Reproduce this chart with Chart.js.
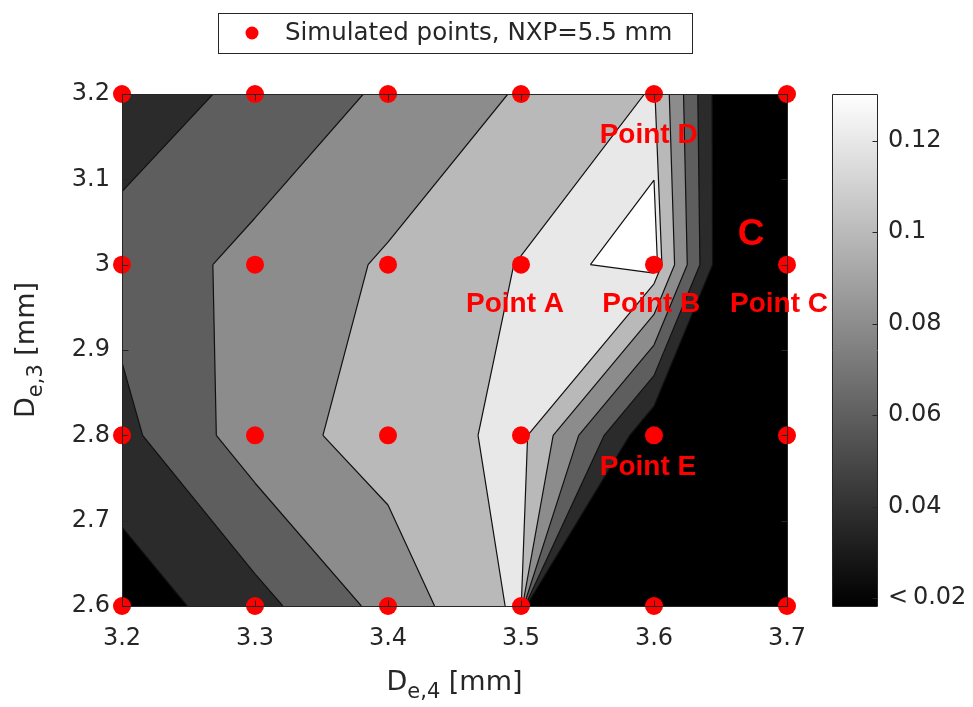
<!DOCTYPE html>
<html>
<head>
<meta charset="utf-8">
<script src="https://cdn.jsdelivr.net/npm/chart.js@4.4.1/dist/chart.umd.min.js"></script>
<style>
  body { margin: 0; background: #fff; }
  #wrap { position: relative; width: 973px; height: 707px; }
  #wrap canvas { position: absolute; left: 0; top: 0; }
</style>
</head>
<body>
<div id="wrap">
  <canvas id="map" width="973" height="707"></canvas>
  <canvas id="bar" width="973" height="707"></canvas>
</div>
<script>
// simulated grid (mm)
const de4Values = [3.2, 3.3, 3.4, 3.5, 3.6, 3.7];
const de3Values = [2.6, 2.8, 3.0, 3.2];

// response at each node, one row per D_e,3 value
const rowDe3_26 = [0.0276, 0.0529, 0.0868, 0.1245, -2.0, -1.5];
const rowDe3_28 = [0.0544, 0.0905, 0.1091, 0.1252, 0.021, -0.08];
const rowDe3_30 = [0.0675, 0.0858, 0.1025, 0.121, 0.1325, -0.0775];
const rowDe3_32 = [0.050, 0.0646, 0.0835, 0.1018, 0.1214, -0.065];

// filled contour levels and the gray of each band (below first level .. above last)
const contourLevels = [0.04, 0.06, 0.08, 0.10, 0.12, 0.127];
const bandGrays = [0, 43, 94, 140, 185, 232, 255];

const xTicks = [3.2, 3.3, 3.4, 3.5, 3.6, 3.7];
const yTicks = [2.6, 2.7, 2.8, 2.9, 3.0, 3.1, 3.2];
const barTicks = [0.02, 0.04, 0.06, 0.08, 0.10, 0.12];
const barRange = [0.0183, 0.1302];

// text marks placed in data units (x, baseline y)
const notes = [
  { text: 'Point D', x: 3.596, y: 3.1426, size: 28 },
  { text: 'Point A', x: 3.4955, y: 2.9445, size: 28 },
  { text: 'Point B', x: 3.598, y: 2.9445, size: 28 },
  { text: 'Point C', x: 3.694, y: 2.9445, size: 28 },
  { text: 'Point E', x: 3.5955, y: 2.7535, size: 28 },
  { text: 'C', x: 3.673, y: 3.023, size: 37 }
];

const AXIS_COLOR = '#262626';
const TICK_FONT = { family: '"DejaVu Sans"', size: 24 };
const grid = [rowDe3_26, rowDe3_28, rowDe3_30, rowDe3_32];
const gray = g => `rgb(${g},${g},${g})`;
const fmt = v => String(Number(v.toFixed(3)));

const gridPoints = [];
de3Values.forEach(y => de4Values.forEach(x => gridPoints.push({ x, y })));

// filled bands + iso-lines, marching squares with linear edge interpolation
const contourPlugin = {
  id: 'contourFill',
  beforeDatasetsDraw(chart) {
    const { ctx, chartArea: a, scales: { x, y } } = chart;
    const px = (i, j, ni, nj, t) => [
      x.getPixelForValue(de4Values[i] + t * (de4Values[ni] - de4Values[i])),
      y.getPixelForValue(de3Values[j] + t * (de3Values[nj] - de3Values[j]))
    ];
    ctx.save();
    ctx.beginPath();
    ctx.rect(a.left, a.top, a.width, a.height);
    ctx.clip();
    ctx.fillStyle = gray(bandGrays[0]);
    ctx.fillRect(a.left, a.top, a.width, a.height);

    const cells = [];
    for (let j = 0; j < de3Values.length - 1; j++) {
      for (let i = 0; i < de4Values.length - 1; i++) {
        cells.push([[i, j], [i + 1, j], [i + 1, j + 1], [i, j + 1]]);
      }
    }

    contourLevels.forEach((lev, k) => {
      ctx.beginPath();
      cells.forEach(corners => {
        const pts = [];
        for (let c = 0; c < 4; c++) {
          const [ci, cj] = corners[c];
          const [ni, nj] = corners[(c + 1) % 4];
          const v0 = grid[cj][ci], v1 = grid[nj][ni];
          if (v0 >= lev) pts.push(px(ci, cj, ci, cj, 0));
          if ((v0 >= lev) !== (v1 >= lev)) pts.push(px(ci, cj, ni, nj, (lev - v0) / (v1 - v0)));
        }
        if (pts.length < 3) return;
        ctx.moveTo(pts[0][0], pts[0][1]);
        pts.slice(1).forEach(p => ctx.lineTo(p[0], p[1]));
        ctx.closePath();
      });
      ctx.fillStyle = gray(bandGrays[k + 1]);
      ctx.fill();
    });

    ctx.strokeStyle = '#111';
    ctx.lineWidth = 1.2;
    ctx.lineJoin = 'round';
    contourLevels.forEach(lev => {
      ctx.beginPath();
      cells.forEach(corners => {
        const hits = [];
        for (let c = 0; c < 4; c++) {
          const [ci, cj] = corners[c];
          const [ni, nj] = corners[(c + 1) % 4];
          const v0 = grid[cj][ci], v1 = grid[nj][ni];
          if ((v0 >= lev) !== (v1 >= lev)) hits.push(px(ci, cj, ni, nj, (lev - v0) / (v1 - v0)));
        }
        let pairs = [];
        if (hits.length === 2) pairs = [[0, 1]];
        else if (hits.length === 4) {
          const [i0, j0] = corners[0];
          pairs = grid[j0][i0] >= lev ? [[0, 1], [2, 3]] : [[1, 2], [3, 0]];
        }
        pairs.forEach(([p, q]) => {
          ctx.moveTo(hits[p][0], hits[p][1]);
          ctx.lineTo(hits[q][0], hits[q][1]);
        });
      });
      ctx.stroke();
    });
    ctx.restore();
  }
};

// axes box with inward ticks on all four sides, drawn over the markers
const framePlugin = {
  id: 'frame',
  afterDatasetsDraw(chart) {
    const { ctx, chartArea: a, scales: { x, y } } = chart;
    const L = Math.round(a.left) + 0.5, R = Math.round(a.right) + 0.5;
    const T = Math.round(a.top) + 0.5, B = Math.round(a.bottom) + 0.5;
    ctx.save();
    ctx.strokeStyle = AXIS_COLOR;
    ctx.lineWidth = 1;
    ctx.beginPath();
    ctx.rect(L, T, R - L, B - T);
    xTicks.forEach(v => {
      const p = Math.round(x.getPixelForValue(v)) + 0.5;
      ctx.moveTo(p, B); ctx.lineTo(p, B - 6);
      ctx.moveTo(p, T); ctx.lineTo(p, T + 6);
    });
    yTicks.forEach(v => {
      const p = Math.round(y.getPixelForValue(v)) + 0.5;
      ctx.moveTo(L, p); ctx.lineTo(L + 6, p);
      ctx.moveTo(R, p); ctx.lineTo(R - 6, p);
    });
    ctx.stroke();
    ctx.restore();
  },
  afterDraw(chart) {
    const { ctx, chartArea: a, scales: { x, y } } = chart;
    ctx.save();

    // red annotations
    ctx.fillStyle = '#ff0000';
    ctx.textAlign = 'center';
    ctx.textBaseline = 'alphabetic';
    notes.forEach(n => {
      ctx.font = `bold ${n.size}px "Liberation Sans"`;
      ctx.fillText(n.text, x.getPixelForValue(n.x), y.getPixelForValue(n.y));
    });

    // axis titles with subscripts
    const drawTitle = (main, sub, rest) => {
      ctx.font = '27px "DejaVu Sans"';
      const w1 = ctx.measureText(main).width, w3 = ctx.measureText(rest).width;
      ctx.font = '21px "DejaVu Sans"';
      const w2 = ctx.measureText(sub).width;
      let s = -(w1 + w2 + w3) / 2;
      ctx.textAlign = 'left';
      ctx.font = '27px "DejaVu Sans"';
      ctx.fillText(main, s, 0);
      ctx.font = '21px "DejaVu Sans"';
      ctx.fillText(sub, s + w1, 8);
      ctx.font = '27px "DejaVu Sans"';
      ctx.fillText(rest, s + w1 + w2, 0);
    };
    ctx.fillStyle = AXIS_COLOR;
    ctx.save();
    ctx.translate((a.left + a.right) / 2, 690);
    drawTitle('D', 'e,4', ' [mm]');
    ctx.restore();
    ctx.save();
    ctx.translate(34, (a.top + a.bottom) / 2);
    ctx.rotate(-Math.PI / 2);
    drawTitle('D', 'e,3', ' [mm]');
    ctx.restore();

    // legend
    const ds = chart.data.datasets[0];
    ctx.fillStyle = '#fff';
    ctx.fillRect(218, 13, 474, 40);
    ctx.strokeStyle = AXIS_COLOR;
    ctx.lineWidth = 1;
    ctx.strokeRect(218.5, 13.5, 474, 40);
    ctx.fillStyle = ds.pointBackgroundColor;
    ctx.beginPath();
    ctx.arc(252, 33, 6.5, 0, Math.PI * 2);
    ctx.fill();
    ctx.fillStyle = AXIS_COLOR;
    ctx.font = '24.5px "DejaVu Sans"';
    ctx.textAlign = 'left';
    ctx.textBaseline = 'middle';
    ctx.fillText(ds.label, 285, 34);
    ctx.restore();
  }
};

new Chart(document.getElementById('map'), {
  type: 'scatter',
  data: {
    datasets: [{
      label: 'Simulated points, NXP=5.5 mm',
      data: gridPoints,
      pointRadius: 9,
      pointBackgroundColor: '#ff0000',
      pointBorderWidth: 0,
      clip: false
    }]
  },
  options: {
    responsive: false,
    animation: false,
    devicePixelRatio: 1,
    events: [],
    layout: { padding: { left: 0, top: 94, right: 186, bottom: 0 } },
    plugins: { legend: { display: false }, tooltip: { enabled: false } },
    scales: {
      x: {
        type: 'linear', min: 3.2, max: 3.7,
        afterFit(s) { s.height = 101; },
        afterBuildTicks(s) { s.ticks = xTicks.map(v => ({ value: v })); },
        grid: { display: false, drawTicks: false },
        border: { display: false },
        ticks: { font: TICK_FONT, color: AXIS_COLOR, padding: 18, maxRotation: 0, autoSkip: false, callback: v => fmt(v) }
      },
      y: {
        type: 'linear', min: 2.6, max: 3.2,
        afterFit(s) { s.width = 122; },
        afterBuildTicks(s) { s.ticks = yTicks.map(v => ({ value: v })); },
        grid: { display: false, drawTicks: false },
        border: { display: false },
        ticks: { font: TICK_FONT, color: AXIS_COLOR, padding: 12, autoSkip: false, callback: v => fmt(v) }
      }
    }
  },
  plugins: [contourPlugin, framePlugin]
});

// colour bar: one floating bar spanning the colour limits, filled black to white
const barFrame = {
  id: 'barFrame',
  afterDatasetsDraw(chart) {
    const { ctx, chartArea: a, scales: { y } } = chart;
    const L = Math.round(a.left) + 0.5, R = Math.round(a.right) + 0.5;
    const T = Math.round(a.top) + 0.5, B = Math.round(a.bottom) + 0.5;
    ctx.save();
    ctx.strokeStyle = AXIS_COLOR;
    ctx.lineWidth = 1;
    ctx.beginPath();
    ctx.rect(L, T, R - L, B - T);
    barTicks.forEach(v => {
      const p = Math.round(y.getPixelForValue(v)) + 0.5;
      ctx.moveTo(R, p); ctx.lineTo(R - 5, p);
    });
    ctx.stroke();
    ctx.restore();
  }
};

new Chart(document.getElementById('bar'), {
  type: 'bar',
  data: {
    labels: [''],
    datasets: [{
      data: [barRange],
      borderWidth: 0,
      barPercentage: 1,
      categoryPercentage: 1,
      backgroundColor(c) {
        const a = c.chart.chartArea;
        if (!a) return '#888';
        const g = c.chart.ctx.createLinearGradient(0, a.bottom, 0, a.top);
        g.addColorStop(0, '#000');
        g.addColorStop(1, '#fff');
        return g;
      }
    }]
  },
  options: {
    responsive: false,
    animation: false,
    devicePixelRatio: 1,
    events: [],
    layout: { padding: { left: 832, top: 94, right: 0, bottom: 101 } },
    plugins: { legend: { display: false }, tooltip: { enabled: false } },
    scales: {
      x: { display: false },
      y: {
        position: 'right',
        min: barRange[0], max: barRange[1],
        afterFit(s) { s.width = 96; },
        afterBuildTicks(s) { s.ticks = barTicks.map(v => ({ value: v })); },
        grid: { display: false, drawTicks: false },
        border: { display: false },
        ticks: {
          font: TICK_FONT, color: AXIS_COLOR, padding: 11, autoSkip: false,
          callback: v => Math.abs(v - 0.02) < 1e-9 ? '<\u20090.02' : fmt(v)
        }
      }
    }
  },
  plugins: [barFrame]
});
</script>
</body>
</html>
